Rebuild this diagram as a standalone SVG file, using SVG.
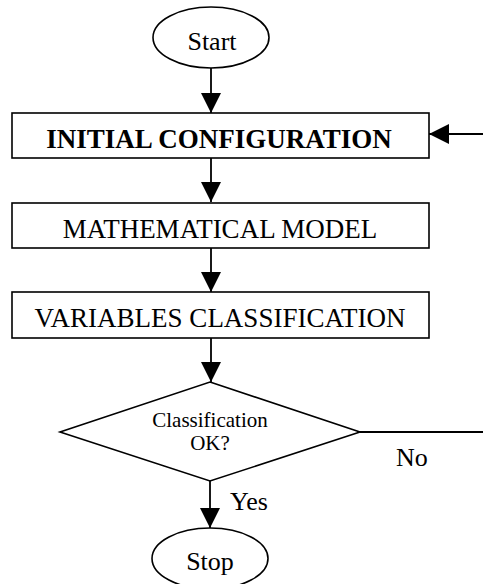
<svg xmlns="http://www.w3.org/2000/svg" width="483" height="584" viewBox="0 0 483 584">
<style>
.shape{fill:#fff;stroke:#000;stroke-width:1.6}
.line{fill:none;stroke:#000;stroke-width:1.8}
text{font-family:"Liberation Serif","Times New Roman",serif;fill:#000}
.t{font-size:26px;text-anchor:middle}
.bx{font-size:27px;text-anchor:middle}
.b{font-weight:bold}
.d{font-size:21px;text-anchor:middle}
</style>
<defs>
<marker id="ah" markerWidth="20" markerHeight="20" refX="20" refY="10" orient="auto" markerUnits="userSpaceOnUse">
<path d="M0,0 L20,10 L0,20 Z" fill="#000"/>
</marker>
</defs>
<g id="connectors">
<line class="line" x1="211" y1="68" x2="211" y2="113" marker-end="url(#ah)"/>
<line class="line" x1="211" y1="158" x2="211" y2="202" marker-end="url(#ah)"/>
<line class="line" x1="211" y1="248" x2="211" y2="292" marker-end="url(#ah)"/>
<line class="line" x1="211" y1="338" x2="211" y2="382" marker-end="url(#ah)"/>
<line class="line" x1="210" y1="481" x2="210" y2="528" marker-end="url(#ah)"/>
<path class="line" d="M360,432 H490 V134 H429" marker-end="url(#ah)"/>
<text x="396" y="466" font-size="26">No</text>
<text x="230" y="510" font-size="26">Yes</text>
</g>
<g id="start">
<ellipse class="shape" cx="211" cy="37.5" rx="58" ry="30.5"/>
<text class="t" x="212" y="50">Start</text>
</g>
<g id="initial">
<rect class="shape" x="12" y="113" width="417" height="45"/>
<text class="bx b" x="219" y="148">INITIAL CONFIGURATION</text>
</g>
<g id="model">
<rect class="shape" x="12" y="203" width="417" height="45"/>
<text class="bx" x="220" y="238">MATHEMATICAL MODEL</text>
</g>
<g id="classify">
<rect class="shape" x="12" y="292" width="417" height="46"/>
<text class="bx" x="220" y="327">VARIABLES CLASSIFICATION</text>
</g>
<g id="decision">
<polygon class="shape" points="210,382 360,432 210,481 60,432"/>
<text class="d" x="210" y="427">Classification</text>
<text class="d" x="210" y="450">OK?</text>
</g>
<g id="stop">
<ellipse class="shape" cx="210" cy="558.5" rx="58" ry="30.5"/>
<text class="t" x="210" y="570">Stop</text>
</g>
</svg>
